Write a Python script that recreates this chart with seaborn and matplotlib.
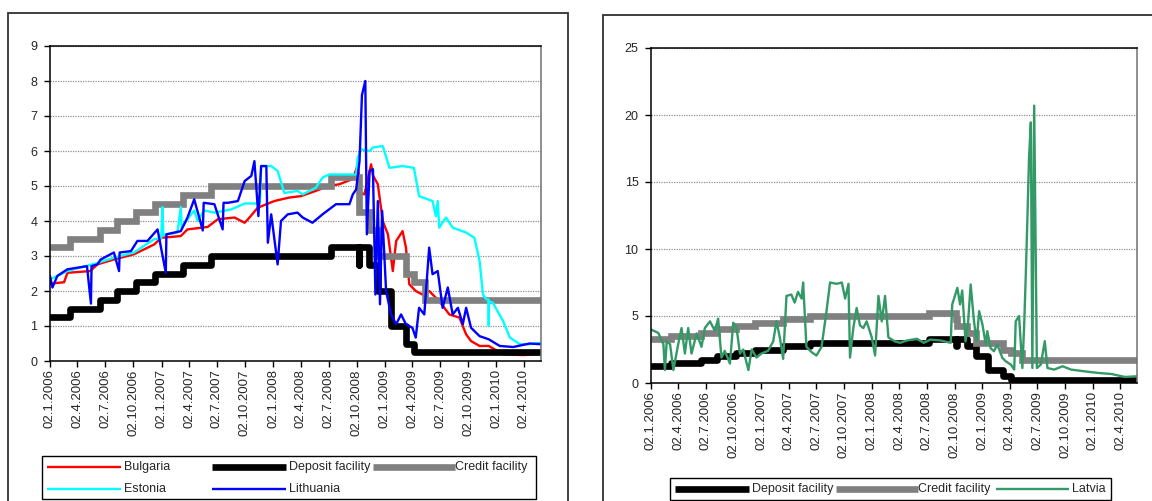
import matplotlib as mpl
mpl.use('Agg')
import matplotlib.pyplot as plt
from matplotlib.lines import Line2D
from matplotlib.patches import Rectangle
import pandas as pd
import seaborn as sns

W, H = 1152, 501

# ECB corridor: change dates and levels
deposit_dates = ['2006-01-02', '2006-03-08', '2006-06-15', '2006-08-09', '2006-10-11', '2006-12-13',
                 '2007-03-14', '2007-06-13', '2008-07-09', '2008-10-08', '2008-10-09', '2008-11-12',
                 '2008-12-10', '2009-01-21', '2009-03-11', '2009-04-08', '2010-05-27']
deposit_rate = [1.25, 1.50, 1.75, 2.00, 2.25, 2.50, 2.75, 3.00, 3.25, 2.75, 3.25, 2.75,
                2.00, 1.00, 0.50, 0.25, 0.25]
credit_dates = ['2006-01-02', '2006-03-08', '2006-06-15', '2006-08-09', '2006-10-11', '2006-12-13',
                '2007-03-14', '2007-06-13', '2008-07-09', '2008-10-08', '2008-10-09', '2008-11-12',
                '2008-12-10', '2009-03-11', '2009-04-08', '2009-05-13', '2010-05-27']
credit_rate = [3.25, 3.50, 3.75, 4.00, 4.25, 4.50, 4.75, 5.00, 5.25, 4.75, 4.25, 3.75,
               3.00, 2.50, 2.25, 1.75, 1.75]

bulgaria_dates = ['2006-01-02', '2006-02-17', '2006-02-28', '2006-05-14', '2006-06-06', '2006-07-30',
                  '2006-10-04', '2006-12-09', '2007-01-01', '2007-03-06', '2007-03-28', '2007-06-02',
                  '2007-07-05', '2007-08-29', '2007-10-01', '2007-10-12', '2007-11-13', '2008-01-06',
                  '2008-02-24', '2008-04-02', '2008-05-21', '2008-07-01', '2008-08-06', '2008-09-19',
                  '2008-10-05', '2008-10-16', '2008-10-27', '2008-11-18', '2008-11-24', '2008-12-10',
                  '2008-12-26', '2009-01-12', '2009-01-28', '2009-02-08', '2009-03-01', '2009-03-12',
                  '2009-03-23', '2009-04-13', '2009-05-05', '2009-05-27', '2009-06-29', '2009-08-01',
                  '2009-09-03', '2009-09-25', '2009-10-11', '2009-11-08', '2009-12-08', '2010-01-24',
                  '2010-03-31', '2010-05-27']
bulgaria = [2.21, 2.25, 2.52, 2.57, 2.76, 2.90, 3.05, 3.33, 3.52, 3.57, 3.76, 3.83,
            4.05, 4.10, 3.95, 4.05, 4.38, 4.57, 4.67, 4.71, 4.86, 5.00, 5.05, 5.20,
            5.60, 4.80, 4.76, 5.62, 5.30, 5.05, 4.00, 3.62, 2.57, 3.43, 3.71, 3.24,
            2.19, 2.00, 1.90, 2.00, 1.71, 1.33, 1.24, 0.76, 0.57, 0.43, 0.43, 0.19,
            0.17, 0.20]

estonia_dates = ['2006-01-02', '2006-02-28', '2006-06-06', '2006-07-30', '2006-10-04', '2006-12-09',
                 '2007-01-01', '2007-01-05', '2007-01-08', '2007-02-23', '2007-03-06', '2007-03-09',
                 '2007-03-28', '2007-04-19', '2007-04-30', '2007-05-22', '2007-06-24', '2007-08-18',
                 '2007-10-01', '2007-11-20', '2007-11-24', '2007-12-27', '2008-01-17', '2008-02-08',
                 '2008-03-22', '2008-04-08', '2008-05-21', '2008-06-12', '2008-07-04', '2008-09-30',
                 '2008-10-05', '2008-10-16', '2008-11-13', '2008-11-24', '2008-12-26', '2009-01-17',
                 '2009-03-01', '2009-04-07', '2009-04-24', '2009-06-07', '2009-06-18', '2009-06-24',
                 '2009-06-29', '2009-07-21', '2009-08-12', '2009-09-25', '2009-10-22', '2009-11-08',
                 '2009-11-19', '2009-11-30', '2009-12-07', '2009-12-08', '2009-12-09', '2009-12-21',
                 '2010-01-24', '2010-02-15', '2010-03-20', '2010-04-21', '2010-05-27']
estonia = [2.33, 2.57, 2.80, 2.95, 3.10, 3.48, 3.50, 4.40, 3.60, 3.67, 4.40, 3.80,
           4.05, 4.30, 4.00, 4.30, 4.24, 4.33, 4.50, 4.50, 5.57, 5.57, 5.43, 4.80,
           4.86, 4.76, 4.95, 5.24, 5.33, 5.33, 5.80, 6.05, 6.00, 6.10, 6.14, 5.52,
           5.57, 5.52, 4.71, 4.57, 4.14, 4.57, 3.81, 4.10, 3.81, 3.67, 3.52, 2.86,
           1.90, 1.76, 1.76, 1.00, 1.70, 1.67, 1.14, 0.67, 0.48, 0.48, 0.52]

lithuania_dates = ['2006-01-02', '2006-01-10', '2006-01-26', '2006-02-28', '2006-05-03', '2006-05-16',
                   '2006-05-18', '2006-06-06', '2006-06-17', '2006-07-30', '2006-08-16', '2006-08-18',
                   '2006-09-24', '2006-10-15', '2006-11-17', '2006-12-20', '2007-01-16', '2007-01-18',
                   '2007-03-06', '2007-03-28', '2007-04-19', '2007-05-17', '2007-05-20', '2007-06-24',
                   '2007-07-21', '2007-07-24', '2007-08-07', '2007-09-09', '2007-10-01', '2007-10-23',
                   '2007-11-02', '2007-11-15', '2007-11-24', '2007-12-11', '2007-12-16', '2007-12-27',
                   '2008-01-17', '2008-01-28', '2008-02-19', '2008-03-22', '2008-04-08', '2008-05-10',
                   '2008-06-12', '2008-07-26', '2008-09-08', '2008-09-19', '2008-09-30', '2008-10-11',
                   '2008-10-19', '2008-10-30', '2008-11-04', '2008-11-13', '2008-11-24', '2008-12-02',
                   '2008-12-10', '2008-12-17', '2008-12-24', '2009-01-06', '2009-01-22', '2009-02-08',
                   '2009-02-24', '2009-03-12', '2009-04-02', '2009-04-13', '2009-04-24', '2009-05-11',
                   '2009-05-27', '2009-06-07', '2009-06-24', '2009-07-10', '2009-07-27', '2009-08-12',
                   '2009-08-29', '2009-09-14', '2009-09-25', '2009-10-11', '2009-11-08', '2009-12-08',
                   '2010-01-13', '2010-02-26', '2010-04-21', '2010-05-27']
lithuania = [2.43, 2.10, 2.43, 2.62, 2.71, 1.64, 2.71, 2.76, 2.90, 3.10, 2.57, 3.10,
             3.14, 3.43, 3.43, 3.76, 2.52, 3.62, 3.71, 4.10, 4.62, 3.73, 4.52, 4.48,
             3.76, 4.52, 4.52, 4.57, 5.14, 5.29, 5.71, 4.14, 5.57, 5.57, 3.38, 4.19,
             2.76, 4.00, 4.19, 4.24, 4.10, 3.95, 4.19, 4.48, 4.48, 4.76, 4.90, 5.71,
             7.60, 8.00, 3.62, 5.43, 5.48, 1.90, 4.57, 1.62, 4.29, 2.00, 1.33, 1.05,
             1.33, 1.05, 0.95, 0.67, 1.52, 1.33, 3.24, 2.48, 2.57, 1.52, 2.10, 1.33,
             1.52, 1.05, 1.52, 0.95, 0.71, 0.62, 0.43, 0.40, 0.50, 0.48]

latvia_dates = ['2006-01-02', '2006-01-26', '2006-02-12', '2006-02-17', '2006-02-23', '2006-03-06',
                '2006-03-17', '2006-04-02', '2006-04-13', '2006-04-24', '2006-05-05', '2006-05-16',
                '2006-06-02', '2006-06-18', '2006-06-29', '2006-07-16', '2006-08-01', '2006-08-12',
                '2006-08-23', '2006-09-03', '2006-09-20', '2006-10-01', '2006-10-12', '2006-10-23',
                '2006-11-03', '2006-11-20', '2006-12-01', '2006-12-17', '2007-01-02', '2007-01-24',
                '2007-02-10', '2007-02-21', '2007-03-04', '2007-03-15', '2007-03-26', '2007-04-11',
                '2007-04-22', '2007-05-03', '2007-05-15', '2007-05-20', '2007-05-31', '2007-06-17',
                '2007-07-03', '2007-07-20', '2007-08-05', '2007-08-17', '2007-09-08', '2007-09-25',
                '2007-10-06', '2007-10-17', '2007-10-22', '2007-11-02', '2007-11-13', '2007-11-24',
                '2007-12-05', '2007-12-16', '2008-01-02', '2008-01-13', '2008-01-24', '2008-02-04',
                '2008-02-15', '2008-02-26', '2008-03-19', '2008-04-05', '2008-04-27', '2008-05-30',
                '2008-06-22', '2008-07-14', '2008-08-17', '2008-09-19', '2008-09-24', '2008-10-11',
                '2008-10-20', '2008-10-27', '2008-11-07', '2008-11-15', '2008-11-24', '2008-12-05',
                '2008-12-14', '2008-12-22', '2009-01-02', '2009-01-13', '2009-01-18', '2009-01-29',
                '2009-02-09', '2009-02-20', '2009-03-09', '2009-03-20', '2009-04-06', '2009-04-17',
                '2009-04-22', '2009-05-03', '2009-05-14', '2009-05-20', '2009-05-25', '2009-05-31',
                '2009-06-05', '2009-06-11', '2009-06-16', '2009-06-22', '2009-07-01', '2009-07-14',
                '2009-07-27', '2009-08-05', '2009-08-27', '2009-09-24', '2009-10-22', '2009-12-06',
                '2010-01-20', '2010-03-05', '2010-04-18', '2010-05-27']
latvia = [3.99, 3.74, 2.90, 0.97, 3.10, 2.90, 0.97, 2.90, 4.10, 2.20, 4.10, 2.20,
          3.70, 2.70, 4.10, 4.60, 3.90, 4.80, 1.90, 2.40, 1.45, 4.50, 4.10, 2.20,
          2.50, 0.97, 2.50, 1.90, 2.20, 2.40, 3.10, 4.60, 3.40, 1.80, 6.50, 6.60,
          6.00, 6.80, 6.30, 7.50, 2.70, 2.30, 2.05, 2.70, 5.30, 7.50, 7.40, 7.50,
          6.30, 7.40, 1.90, 4.10, 5.60, 4.30, 4.10, 4.60, 3.40, 2.05, 6.50, 4.60,
          6.50, 3.40, 3.10, 3.00, 3.17, 3.30, 3.00, 3.24, 3.17, 3.00, 5.86, 7.10,
          5.86, 6.90, 3.10, 4.40, 7.35, 4.60, 3.10, 5.36, 4.36, 2.87, 3.87, 2.60,
          2.37, 2.87, 1.87, 1.62, 1.37, 1.00, 4.60, 5.00, 1.12, 4.36, 7.86, 12.60,
          16.80, 19.45, 1.12, 20.70, 1.12, 1.37, 3.12, 1.12, 1.00, 1.25, 1.00, 0.87,
          0.75, 0.67, 0.45, 0.50]

styles = {
    'Bulgaria': dict(color='#FF0000', linewidth=1.7),
    'Estonia': dict(color='#00FFFF', linewidth=1.7),
    'Lithuania': dict(color='#0000FF', linewidth=1.7),
    'Latvia': dict(color='#339966', linewidth=1.7),
    'Deposit facility': dict(color='#000000', linewidth=4.8, solid_capstyle='round', solid_joinstyle='round'),
    'Credit facility': dict(color='#808080', linewidth=4.8, solid_capstyle='butt', solid_joinstyle='miter'),
}

x_start = pd.Timestamp('2006-01-02')
x_end = pd.Timestamp('2010-05-28')
tick_dates = pd.date_range('2006-01-01', '2010-04-01', freq='3MS') + pd.Timedelta(days=1)
tick_labels = [f'{d.day:02d}.{d.month}.{d.year}' for d in tick_dates]

sns.set_style('ticks')
plt.rcParams['font.family'] = ['Liberation Sans', 'DejaVu Sans']


def draw(ax, dates, values, name, step=False):
    df = pd.DataFrame({'date': pd.to_datetime(dates), 'value': values})
    kw = dict(styles[name])
    if step:
        kw['drawstyle'] = 'steps-post'
    sns.lineplot(data=df, x='date', y='value', ax=ax, estimator=None, sort=False, **kw)


def style_axes(ax, ymax, ystep):
    ax.set_xlim(x_start, x_end)
    ax.set_ylim(0, ymax)
    ax.set_yticks(range(0, ymax + 1, ystep))
    ax.set_xticks(tick_dates)
    ax.set_xticklabels(tick_labels, rotation=90, va='top', ha='center', fontsize=9.5)
    ax.tick_params(axis='y', labelsize=9, length=4, width=1, pad=5, color='black')
    ax.tick_params(axis='x', length=4, width=1, pad=2, color='black')
    ax.grid(axis='y', color='#909090', linestyle=(0, (1, 1)), linewidth=0.9)
    ax.set_axisbelow(True)
    ax.set_xlabel('')
    ax.set_ylabel('')
    for s in ['left', 'bottom', 'top']:
        ax.spines[s].set_color('black')
        ax.spines[s].set_linewidth(1.1)
    ax.spines['right'].set_color('#707070')
    ax.spines['right'].set_linewidth(1.1)


def fx(x):
    return x / W


def fy(y):
    return 1 - y / H


def legend_box(fig, box, entries):
    x0, y0, x1, y1 = box
    fig.add_artist(Rectangle((fx(x0), fy(y1)), (x1 - x0) / W, (y1 - y0) / H,
                             transform=fig.transFigure, fill=False, ec='black', lw=1))
    for name, hx0, hx1, tx, y in entries:
        kw = dict(styles[name])
        kw['solid_capstyle'] = 'butt'
        fig.add_artist(Line2D([fx(hx0), fx(hx1)], [fy(y), fy(y)], transform=fig.transFigure, **kw))
        fig.text(fx(tx), fy(y), name, va='center', ha='left', fontsize=9)


fig = plt.figure(figsize=(W / 100, H / 100), dpi=100)

# outer frames of the two chart objects
fig.add_artist(Rectangle((fx(8), -0.1), 560 / W, fy(13) + 0.1, transform=fig.transFigure,
                         fill=False, ec='#303030', lw=1.3))
fig.add_artist(Rectangle((fx(603), -0.1), 600 / W, fy(15) + 0.1, transform=fig.transFigure,
                         fill=False, ec='#303030', lw=1.3))

ax1 = fig.add_axes([fx(50), fy(361), 491 / W, 315 / H])
draw(ax1, bulgaria_dates, bulgaria, 'Bulgaria')
draw(ax1, deposit_dates, deposit_rate, 'Deposit facility', step=True)
draw(ax1, credit_dates, credit_rate, 'Credit facility', step=True)
draw(ax1, estonia_dates, estonia, 'Estonia')
draw(ax1, lithuania_dates, lithuania, 'Lithuania')
style_axes(ax1, 9, 1)

ax2 = fig.add_axes([fx(651), fy(383), 486 / W, 335 / H])
draw(ax2, deposit_dates, deposit_rate, 'Deposit facility', step=True)
draw(ax2, credit_dates, credit_rate, 'Credit facility', step=True)
draw(ax2, latvia_dates, latvia, 'Latvia')
style_axes(ax2, 25, 5)

legend_box(fig, (42, 456, 536, 499), [
    ('Bulgaria', 47, 121, 124, 467),
    ('Deposit facility', 212, 286, 289, 467),
    ('Credit facility', 373, 455, 455, 467),
    ('Estonia', 47, 121, 124, 489),
    ('Lithuania', 212, 286, 289, 489),
])
legend_box(fig, (670, 478, 1111, 500), [
    ('Deposit facility', 675, 749, 752, 489),
    ('Credit facility', 836, 918, 918, 489),
    ('Latvia', 996, 1069, 1072, 489),
])

fig.savefig('out.png', dpi=100)
